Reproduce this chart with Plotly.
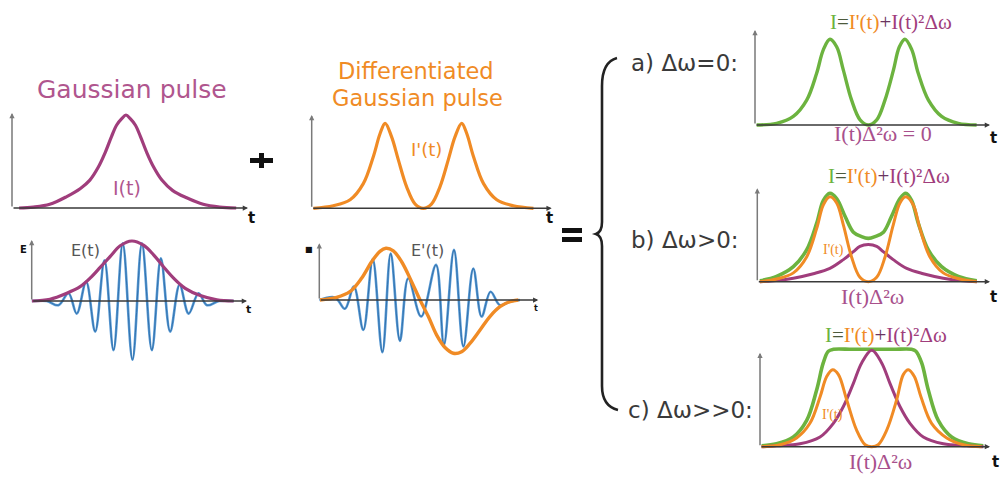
import plotly.graph_objects as go

W, H = 1006, 477

# ---------------- data (t in 0..10 along each time axis, amplitude normalised) ----------------
# Gaussian pulse intensity I(t)
gauss_t = [0.3, 0.9, 1.6, 2.3, 2.9, 3.3, 3.66, 3.94, 4.22, 4.43, 4.65, 4.83, 5.01, 5.23, 5.44, 5.72, 6.0, 6.35, 6.8, 7.4, 8.1, 8.8, 9.5]
gauss_i = [0.0, 0.01, 0.04, 0.12, 0.21, 0.30, 0.44, 0.59, 0.77, 0.89, 0.96, 1.0, 0.96, 0.89, 0.77, 0.59, 0.44, 0.30, 0.19, 0.11, 0.04, 0.01, 0.0]

# field E(t): envelope and carrier extrema
env_t = [0.0, 0.85, 1.63, 2.25, 2.71, 3.18, 3.64, 4.11, 4.65, 5.19, 5.66, 6.12, 6.59, 7.13, 7.83, 8.60, 9.38]
env_e = [0.0, 0.03, 0.13, 0.24, 0.38, 0.56, 0.74, 0.92, 1.0, 0.93, 0.77, 0.57, 0.38, 0.21, 0.09, 0.02, 0.0]
car_t = [0.0, 0.7, 1.24, 1.71, 2.09, 2.53, 2.95, 3.38, 3.80, 4.23, 4.68, 5.12, 5.58, 6.00, 6.43, 6.87, 7.29, 7.75, 8.14, 8.7, 9.38]
car_e = [0.0, 0.0, -0.07, 0.13, -0.21, 0.32, -0.51, 0.68, -0.82, 0.96, -0.98, 0.96, -0.82, 0.71, -0.51, 0.27, -0.21, 0.13, -0.07, 0.0, 0.0]

# differentiated Gaussian pulse I'(t)
dg_t = [0.07, 0.9, 1.6, 2.15, 2.57, 2.85, 3.06, 3.33, 3.61, 3.96, 4.31, 4.65, 4.99, 5.34, 5.69, 5.97, 6.25, 6.46, 6.74, 7.16, 7.71, 8.40, 9.24]
dg_i = [0.0, 0.03, 0.10, 0.29, 0.61, 0.88, 1.0, 0.84, 0.57, 0.25, 0.05, 0.0, 0.05, 0.25, 0.57, 0.84, 1.0, 0.88, 0.61, 0.29, 0.10, 0.03, 0.0]

# field E'(t): envelope and carrier extrema
dev_t = [0.03, 0.79, 1.40, 1.93, 2.39, 2.77, 3.04, 3.38, 3.76, 4.22, 4.60, 4.98, 5.36, 5.74, 6.12, 6.50, 6.88, 7.34, 7.79, 8.25, 8.71, 9.09]
dev_e = [0.0, 0.05, 0.16, 0.42, 0.74, 0.94, 1.0, 0.95, 0.74, 0.35, 0.0, -0.32, -0.68, -0.92, -1.03, -1.0, -0.84, -0.58, -0.32, -0.13, -0.03, 0.0]
dcar_t = [0.0, 0.72, 1.17, 1.58, 2.01, 2.44, 2.88, 3.26, 3.68, 4.06, 4.65, 5.33, 5.69, 6.15, 6.58, 7.03, 7.41, 7.82, 8.25, 8.71, 9.16]
dcar_e = [0.0, 0.05, -0.17, 0.26, -0.58, 0.79, -1.01, 0.90, -0.79, 0.42, -0.32, 0.68, -0.87, 0.97, -0.90, 0.61, -0.32, 0.16, -0.10, -0.03, 0.0]

# a) dw = 0 : total intensity
a_t = [0.07, 0.92, 1.63, 2.20, 2.62, 2.91, 3.19, 3.48, 3.76, 4.11, 4.47, 4.82, 5.18, 5.53, 5.89, 6.14, 6.38, 6.67, 6.95, 7.38, 7.94, 8.65, 9.43]
a_total = [0.0, 0.02, 0.10, 0.29, 0.60, 0.88, 1.0, 0.91, 0.64, 0.29, 0.06, 0.0, 0.06, 0.29, 0.64, 0.91, 1.0, 0.88, 0.60, 0.29, 0.10, 0.02, 0.0]

# b) dw > 0
b_total_t = [0.11, 0.83, 1.55, 2.12, 2.55, 2.84, 3.12, 3.41, 3.77, 4.13, 4.48, 4.77, 5.06, 5.42, 5.77, 6.13, 6.38, 6.63, 6.92, 7.35, 7.92, 8.64, 9.43]
b_total = [0.01, 0.06, 0.17, 0.36, 0.66, 0.92, 1.0, 0.94, 0.74, 0.56, 0.51, 0.49, 0.51, 0.56, 0.74, 0.94, 1.0, 0.92, 0.66, 0.36, 0.17, 0.06, 0.01]
b_diff_t = [0.11, 0.83, 1.55, 2.12, 2.55, 2.84, 3.12, 3.41, 3.70, 4.05, 4.41, 4.77, 5.13, 5.49, 5.84, 6.13, 6.38, 6.70, 6.99, 7.42, 7.99, 8.71, 9.43]
b_diff = [0.0, 0.03, 0.10, 0.28, 0.60, 0.87, 0.96, 0.89, 0.64, 0.28, 0.05, 0.0, 0.05, 0.28, 0.64, 0.89, 0.96, 0.87, 0.60, 0.28, 0.10, 0.03, 0.0]
b_gauss_t = [0.11, 0.69, 1.55, 2.41, 3.12, 3.70, 4.13, 4.41, 4.77, 5.13, 5.41, 5.84, 6.42, 7.13, 7.99, 8.85, 9.43]
b_gauss = [0.0, 0.01, 0.04, 0.09, 0.15, 0.25, 0.34, 0.40, 0.42, 0.40, 0.34, 0.25, 0.15, 0.09, 0.04, 0.01, 0.0]

# c) dw >> 0
c_total_t = [0.07, 0.72, 1.45, 2.03, 2.46, 2.75, 2.97, 3.19, 4.0, 4.9, 5.8, 6.59, 6.78, 7.03, 7.32, 7.75, 8.33, 9.06, 9.71]
c_total = [0.01, 0.03, 0.10, 0.27, 0.58, 0.86, 0.98, 1.0, 1.0, 1.0, 1.0, 1.0, 0.98, 0.86, 0.58, 0.27, 0.10, 0.03, 0.01]
c_diff_t = [0.07, 0.87, 1.59, 2.17, 2.61, 2.90, 3.16, 3.41, 3.77, 4.20, 4.57, 4.86, 5.14, 5.51, 5.94, 6.23, 6.45, 6.71, 7.0, 7.46, 8.12, 8.84, 9.64]
c_diff = [0.0, 0.02, 0.09, 0.24, 0.51, 0.72, 0.79, 0.74, 0.48, 0.17, 0.02, 0.0, 0.02, 0.17, 0.48, 0.74, 0.79, 0.72, 0.51, 0.24, 0.09, 0.02, 0.0]
c_gauss_t = [0.07, 0.72, 1.74, 2.61, 3.19, 3.62, 4.06, 4.42, 4.86, 5.29, 5.65, 6.09, 6.52, 7.10, 7.97, 8.99, 9.71]
c_gauss = [0.0, 0.01, 0.03, 0.10, 0.24, 0.41, 0.65, 0.86, 0.99, 0.86, 0.65, 0.41, 0.24, 0.10, 0.03, 0.01, 0.0]

# ---------------- styling ----------------
PURPLE = "#a03d7c"
PURPLE_TXT = "#b0568e"
ORANGE = "#f08b25"
GREEN = "#6cb33f"
BLUE = "#5a9bd6"
BLUE_DARK = "#2f6ea8"
SANS = "DejaVu Sans"
SERIF = "Liberation Serif"


def px(x):
    return x / W


def py(y):
    return 1 - y / H


# panel frames in page pixels: x at t=0, x at t=10, y at zero, y at unit amplitude,
# y of the vertical arrow tip, top and bottom of the plotting box
frames = [
    (12.0, 248.0, 208.0, 115.0, 113.0, 100.0, 216.0),
    (31.7, 247.0, 301.0, 241.0, 240.0, 230.0, 370.0),
    (311.7, 551.7, 208.3, 123.3, 115.0, 105.0, 216.0),
    (319.3, 538.3, 300.0, 248.3, 243.3, 235.0, 365.0),
    (755.0, 990.0, 125.0, 39.3, 30.0, 20.0, 132.0),
    (757.3, 990.0, 281.7, 193.3, 188.3, 180.0, 289.0),
    (760.0, 990.0, 446.7, 349.3, 352.7, 340.0, 454.0),
]

fig = go.Figure()
layout = {}
annotations = []

for i, (x0, x10, base, one, tip, top, bot) in enumerate(frames, start=1):
    def val(yp):
        return (base - yp) / (base - one)
    sx = "" if i == 1 else str(i)
    layout["xaxis" + sx] = dict(domain=[px(x0), px(x10)], range=[0, 10], visible=False,
                                 anchor="y" + sx, fixedrange=True)
    layout["yaxis" + sx] = dict(domain=[py(bot), py(top)], range=[val(bot), val(top)],
                                 visible=False, anchor="x" + sx, fixedrange=True)
    # time axis and amplitude axis with small arrow heads
    annotations.append(dict(x=10, y=0, ax=0, ay=0, xref="x" + sx, yref="y" + sx,
                            axref="x" + sx, ayref="y" + sx, text="", showarrow=True,
                            arrowhead=2, arrowsize=0.7, arrowwidth=1.5, arrowcolor="#3a3a3a"))
    annotations.append(dict(x=0, y=val(tip), ax=0, ay=0, xref="x" + sx, yref="y" + sx,
                            axref="x" + sx, ayref="y" + sx, text="", showarrow=True,
                            arrowhead=2, arrowsize=0.7, arrowwidth=1.5, arrowcolor="#7a7a7a"))


def curve(t, v, n, color, width):
    sx = "" if n == 1 else str(n)
    fig.add_trace(go.Scatter(x=t, y=v, mode="lines", xaxis="x" + sx, yaxis="y" + sx,
                             line=dict(color=color, width=width, shape="spline", smoothing=1.0),
                             hoverinfo="skip", showlegend=False))


# panel 1: Gaussian pulse
curve(gauss_t, gauss_i, 1, PURPLE, 3.2)
# panel 2: field with envelope
curve(car_t, car_e, 2, BLUE, 2.6)
curve(car_t, car_e, 2, BLUE_DARK, 0.9)
curve(env_t, env_e, 2, PURPLE, 3.2)
# panel 3: differentiated pulse
curve(dg_t, dg_i, 3, ORANGE, 3.2)
# panel 4: differentiated field
curve(dcar_t, dcar_e, 4, BLUE, 2.6)
curve(dcar_t, dcar_e, 4, BLUE_DARK, 0.9)
curve(dev_t, dev_e, 4, ORANGE, 3.4)
# panel a
curve(a_t, a_total, 5, GREEN, 3.4)
# panel b
curve(b_total_t, b_total, 6, GREEN, 3.6)
curve(b_gauss_t, b_gauss, 6, PURPLE, 3.0)
curve(b_diff_t, b_diff, 6, ORANGE, 3.0)
# panel c
curve(c_total_t, c_total, 7, GREEN, 3.6)
curve(c_gauss_t, c_gauss, 7, PURPLE, 3.0)
curve(c_diff_t, c_diff, 7, ORANGE, 3.0)


def label(x, y, text, size, color, family=SANS, bold=False):
    annotations.append(dict(x=px(x), y=py(y), xref="paper", yref="paper", text=text,
                            showarrow=False, xanchor="center", yanchor="middle",
                            font=dict(family=family, size=size, color=color,
                                      weight="bold" if bold else "normal")))


label(132, 89, "Gaussian pulse", 25, PURPLE_TXT)
label(416, 71, "Differentiated", 22.5, ORANGE)
label(417, 97.5, "Gaussian pulse", 22.5, ORANGE)

label(127, 188, "I(t)", 19, PURPLE_TXT)
label(426, 150, "I'(t)", 18, ORANGE)
label(85, 250, "E(t)", 16, "#555555")
label(427, 251, "E'(t)", 16, "#555555")
label(23, 249, "E", 10, "#111111", bold=True)
label(309, 249, "■", 8, "#111111")

for (x, y, s) in [(251, 218, 15), (248, 309, 11), (549, 218, 15), (536, 308, 8),
                  (993, 138, 15), (993, 297, 15), (995, 462, 15)]:
    label(x, y, "t", s, "#111111", bold=True)

label(684, 63, "a) Δω=0:", 23, "#3a3a3a")
label(685, 240, "b) Δω>0:", 23, "#3a3a3a")
label(690, 410, "c) Δω>>0:", 23, "#3a3a3a")

formula = ('<span style="color:%s">I</span><span style="color:#4d5a3c">=</span>'
           '<span style="color:%s">I\'(t)</span><span style="color:#6a3560">+</span>'
           '<span style="color:%s">I(t)²Δω</span>') % (GREEN, ORANGE, PURPLE)
label(891, 22, formula, 21, PURPLE, family=SERIF)
label(889, 176, formula, 21, PURPLE, family=SERIF)
label(886, 335, formula, 21, PURPLE, family=SERIF)

label(883, 133, "I(t)Δ²ω = 0", 22, "#a8508c", family=SERIF)
label(872, 296, "I(t)Δ²ω", 22, "#a8508c", family=SERIF)
label(880, 461, "I(t)Δ²ω", 22, "#a8508c", family=SERIF)
label(833, 250, "I'(t)", 14, ORANGE, family=SERIF)
label(832, 415, "I'(t)", 14, ORANGE, family=SERIF)

# operators and the curly brace
shapes = []


def bar(x0, y0, x1, y1):
    shapes.append(dict(type="rect", xref="paper", yref="paper",
                       x0=px(x0), x1=px(x1), y0=py(y1), y1=py(y0),
                       fillcolor="#111111", line=dict(width=0)))


bar(250, 158, 273, 163)
bar(259, 153, 264, 168)
bar(562, 228, 582, 233)
bar(562, 237, 582, 242)


def pt(x, y):
    return "%.5f,%.5f" % (px(x), py(y))


brace = ("M " + pt(617, 58) + " Q " + pt(602, 62) + " " + pt(602, 86)
         + " L " + pt(602, 222) + " Q " + pt(602, 232) + " " + pt(596, 234)
         + " Q " + pt(602, 236) + " " + pt(602, 246)
         + " L " + pt(602, 386) + " Q " + pt(602, 406) + " " + pt(618, 410))
shapes.append(dict(type="path", xref="paper", yref="paper", path=brace,
                   line=dict(color="#222222", width=2.6)))

fig.update_layout(width=W, height=H, margin=dict(l=0, r=0, t=0, b=0),
                  paper_bgcolor="white", plot_bgcolor="rgba(0,0,0,0)",
                  showlegend=False, annotations=annotations, shapes=shapes, **layout)

fig.write_html("out.html", config={"displayModeBar": False})
